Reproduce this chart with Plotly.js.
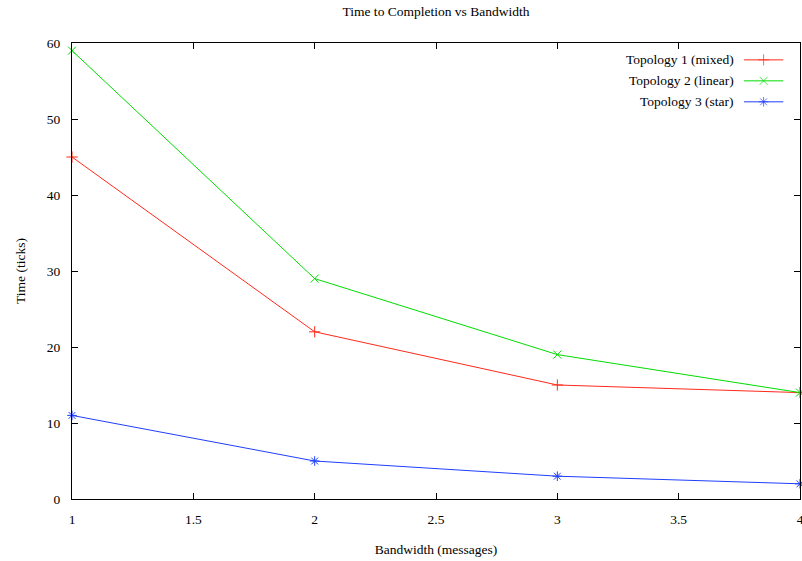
<!DOCTYPE html>
<html><head><meta charset="utf-8">
<script src="https://cdn.plot.ly/plotly-3.0.1.min.js"></script>
<style>html,body{margin:0;padding:0;background:#fff}#c{width:802px;height:561px}</style>
</head><body><div id="c"></div>
<script>
const bandwidth = [1, 2, 3, 4];
const topo1 = [45, 22, 15, 14];
const topo2 = [59, 29, 19, 14];
const topo3 = [11, 5, 3, 2];
const names = ["Topology 1 (mixed)", "Topology 2 (linear)", "Topology 3 (star)"];
const colors = ["#ff2a1a", "#00dd00", "#1f3fff"];
const symbols = ["cross-thin-open", "x-thin-open", "asterisk-open"];
const series = [topo1, topo2, topo3];
const xTicks = [1, 1.5, 2, 2.5, 3, 3.5, 4];
const yTicks = [0, 10, 20, 30, 40, 50, 60];

const font = {family: "Liberation Serif, Times New Roman, serif", size: 13.5, color: "#000"};
const traces = series.map((s, i) => ({
  x: bandwidth, y: s, name: names[i], mode: "lines+markers",
  line: {color: colors[i], width: 1},
  marker: {symbol: symbols[i], size: 8, color: colors[i], line: {color: colors[i], width: 1}},
  showlegend: false, cliponaxis: false
}));
// custom gnuplot-style legend (text right, sample on right)
const legY = [0.963, 0.917, 0.871];
const annotations = [];
series.forEach((s, i) => {
  traces.push({
    x: [0.923, 0.95, 0.977], y: [legY[i], legY[i], legY[i]], xaxis: "x2", yaxis: "y2",
    mode: "lines+markers", line: {color: colors[i], width: 1},
    marker: {symbol: symbols[i], size: [0, 8, 0], color: colors[i], line: {color: colors[i], width: 1}},
    showlegend: false, hoverinfo: "skip"
  });
  annotations.push({xref: "paper", yref: "paper", x: 0.912, y: legY[i], xanchor: "right", yanchor: "middle",
    text: names[i], showarrow: false, font: font});
});
const layout = {
  width: 802, height: 561,
  margin: {l: 72, r: 2, t: 43, b: 62},
  paper_bgcolor: "#fff", plot_bgcolor: "#fff",
  font: font,
  title: {text: "Time to Completion vs Bandwidth", x: 0.5, xref: "paper", y: 0.98, yanchor: "middle", font: {family: font.family, size: 13.5}},
  xaxis: {range: [1, 4], tickvals: xTicks, ticktext: xTicks.map(String), ticks: "inside", ticklen: 6, tickcolor: "#000",
    showline: true, linecolor: "#000", linewidth: 1, mirror: "ticks", showgrid: false, zeroline: false,
    ticklabelstandoff: 8, ticklabeloverflow: "allow",
    title: {text: "Bandwidth (messages)", font: font, standoff: 18}},
  yaxis: {range: [0, 60], tickvals: yTicks, ticks: "inside", ticklen: 6, tickcolor: "#000",
    showline: true, linecolor: "#000", linewidth: 1, mirror: "ticks", showgrid: false, zeroline: false,
    ticklabelstandoff: 8, ticklabeloverflow: "allow",
    title: {text: "Time (ticks)", font: font, standoff: 18}},
  xaxis2: {range: [0, 1], overlaying: "x", visible: false, fixedrange: true},
  yaxis2: {range: [0, 1], overlaying: "y", visible: false, fixedrange: true},
  annotations: annotations,
  showlegend: false
};
Plotly.newPlot("c", traces, layout, {displayModeBar: false, staticPlot: true});
</script></body></html>
